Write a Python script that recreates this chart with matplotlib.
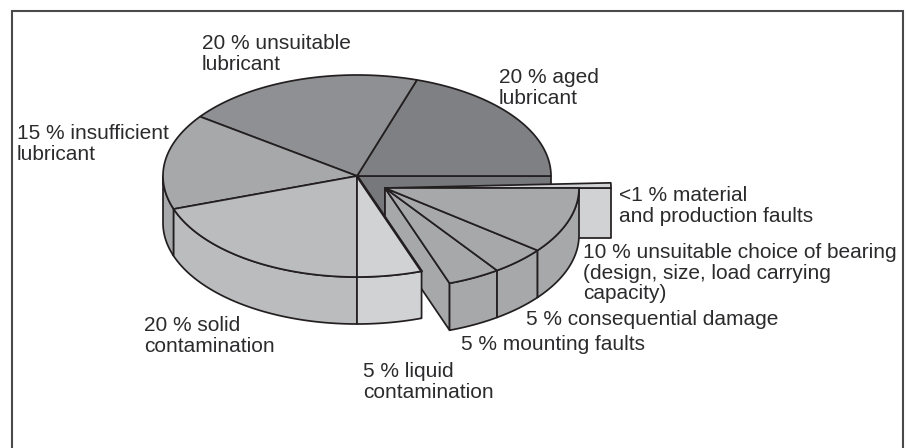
import numpy as np
import matplotlib
matplotlib.use("Agg")
import matplotlib.pyplot as plt
from matplotlib.patches import Polygon

# Drawn share of each slice (percent of the circle)
main_names = ["aged", "unsuitable", "insufficient", "solid", "liquid"]
main_shares = [20.0, 20.0, 15.3, 19.7, 5.4]
main_colors = ["#7f8083", "#8f9093", "#a7a8aa", "#bbbcbe", "#d1d2d4"]
inner_wall_color = "#77787b"
pulled_names = ["mounting", "consequential", "bearing"]
pulled_shares = [4.4, 4.6, 10.6]
pulled_color = "#a7a8aa"
sliver_share = 0.7
sliver_color = "#d1d2d4"

# label text, left edge and first baseline in picture pixels
labels = [
    ("20 % unsuitable\nlubricant", 202, 49),
    ("20 % aged\nlubricant", 499, 83),
    ("15 % insufficient\nlubricant", 17, 139),
    ("<1 % material\nand production faults", 619, 201),
    ("10 % unsuitable choice of bearing\n(design, size, load carrying\ncapacity)", 583, 258),
    ("5 % consequential damage", 526, 325),
    ("5 % mounting faults", 461, 350),
    ("5 % liquid\ncontamination", 363, 377),
    ("20 % solid\ncontamination", 144, 331),
]

CX, CY, RX, RY, DEPTH = 357, 176, 194, 101, 47
PX, PY = 385, 188
LINE = "#231f20"
LW = 1.25

fig = plt.figure(figsize=(9.08, 4.48), dpi=100)
ax = fig.add_axes([0, 0, 1, 1])
ax.set_xlim(0, 908)
ax.set_ylim(448, 0)
ax.axis("off")


def rim(cx, cy, a0, a1, scale=1.0, n=80):
    t = np.radians(np.linspace(a0, a1, n))
    return np.column_stack([cx + RX * scale * np.cos(t), cy - RY * scale * np.sin(t)])


def top(cx, cy, a0, a1, color, z, scale=1.0):
    pts = np.vstack([[cx, cy], rim(cx, cy, a0, a1, scale)])
    ax.add_patch(Polygon(pts, closed=True, fc=color, ec=LINE, lw=LW, zorder=z, joinstyle="round"))


def wall(cx, cy, a0, a1, color, z, depth=DEPTH):
    r = rim(cx, cy, a0, a1)
    pts = np.vstack([r, r[::-1] + [0, depth]])
    ax.add_patch(Polygon(pts, closed=True, fc=color, ec=LINE, lw=LW, zorder=z, joinstyle="round"))


def cut(cx, cy, a, color, z, scale=1.0, depth=DEPTH, lw=LW):
    e = rim(cx, cy, a, a, scale, 1)[0]
    pts = [[cx, cy], e, e + [0, depth], [cx, cy + depth]]
    ax.add_patch(Polygon(pts, closed=True, fc=color, ec=LINE, lw=lw, zorder=z, joinstyle="round"))


# frame, open at the bottom
ax.plot([12, 12, 903, 903], [448, 11, 11, 448], color="#4a4a4c", lw=1.5, zorder=0,
        solid_joinstyle="miter")

edges = np.concatenate([[0], np.cumsum(main_shares)]) * 3.6
end_main = edges[-1]

# inside wall behind the pulled-out part, below the aged slice
cut(CX, CY, 0, inner_wall_color, 1)

# pulled-out group: sliver, cut face, walls and tops
sc = 226 / 194
cut(PX, PY, 0, sliver_color, 2, scale=sc, depth=50)
top(PX, PY, 0, sliver_share * 3.6, sliver_color, 3, scale=sc)
cut(PX, PY, end_main, pulled_color, 3)
p_edges = end_main + np.concatenate([[0], np.cumsum(pulled_shares)]) * 3.6
for i in range(len(pulled_shares)):
    wall(PX, PY, p_edges[i], p_edges[i + 1], pulled_color, 4)
    top(PX, PY, p_edges[i], p_edges[i + 1], pulled_color, 5)

# main body
for i, c in enumerate(main_colors):
    a0, a1 = edges[i], edges[i + 1]
    if a1 > 180:
        wall(CX, CY, max(a0, 180), a1, c, 6)
    top(CX, CY, a0, a1, c, 7)
e = rim(CX, CY, end_main, end_main, 1, 1)[0]
ax.plot([CX, e[0]], [CY, e[1]], color=LINE, lw=1.9, zorder=8, solid_capstyle="round")

for txt, x, y in labels:
    for j, line in enumerate(txt.split("\n")):
        ax.text(x, y + j * 20.6, line, family="Liberation Sans", fontsize=15.0, color="#2b2b2d",
                ha="left", va="baseline", zorder=10)

fig.savefig("out.png", dpi=100)
